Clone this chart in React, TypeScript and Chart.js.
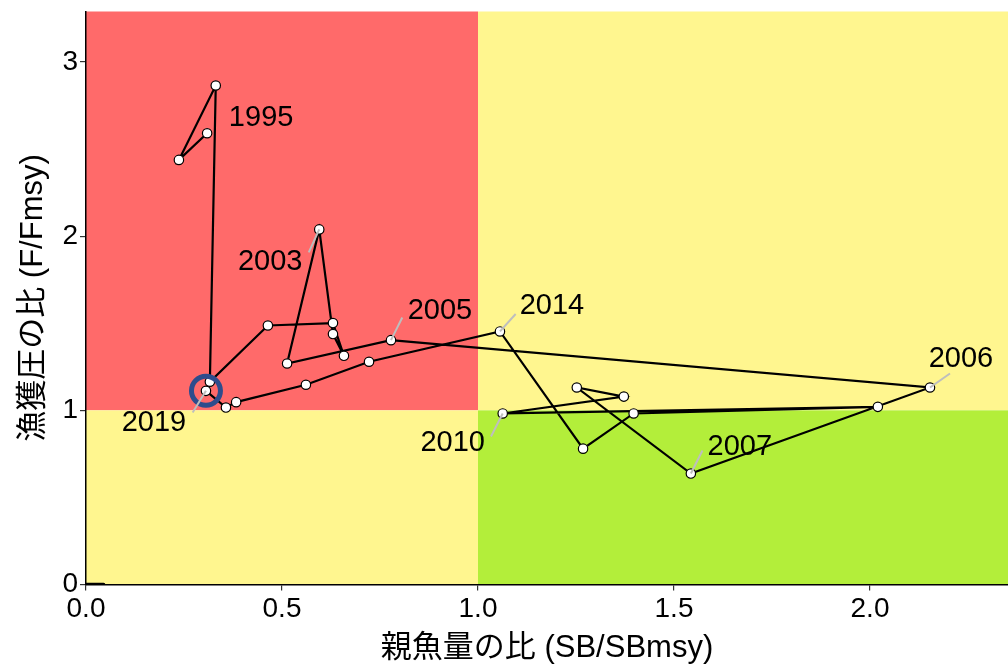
import React, { useEffect, useRef } from "react";
import { Chart, registerables } from "chart.js";

Chart.register(...registerables);

// ---- data ----
const years = [
  1995, 1996, 1997, 1998, 1999, 2000, 2001, 2002, 2003, 2004, 2005, 2006, 2007,
  2008, 2009, 2010, 2011, 2012, 2013, 2014, 2015, 2016, 2017, 2018, 2019,
];
const sbRatio = [
  0.309, 0.237, 0.331, 0.316, 0.464, 0.63, 0.658, 0.63, 0.595, 0.513, 0.778,
  2.153, 1.543, 1.252, 1.372, 1.063, 2.02, 1.397, 1.268, 1.056, 0.722, 0.561,
  0.383, 0.357, 0.306,
];
const fRatio = [
  2.591, 2.438, 2.865, 1.164, 1.487, 1.501, 1.313, 1.438, 2.039, 1.269, 1.403,
  1.131, 0.637, 1.131, 1.079, 0.982, 1.02, 0.982, 0.78, 1.453, 1.279, 1.147,
  1.047, 1.016, 1.112,
];
const labelYears = [1995, 2003, 2005, 2006, 2007, 2010, 2014, 2019];
const xTicks = [0, 0.5, 1, 1.5, 2];
const yTicks = [0, 1, 2, 3];
const xMax = 2.352;
const yMax = 3.29;
const refLine = 1; // SB/SBmsy = 1 and F/Fmsy = 1
const originSegX = [0, 0.045];
const originSegY = [0, 0];

// label placement (pixel offsets from the point): [labelDx, labelDy, leaderDx, leaderDy]
const labelOffsets: Record<number, number[]> = {
  1995: [54, -15],
  2003: [-49, 33, -10.5, 23],
  2005: [49, -29, 11.3, -22.6],
  2006: [31, -29, 20, -14],
  2007: [49, -27, 11.6, -23],
  2010: [-50, 30, -11.7, 23],
  2014: [52, -25, 15.7, -17.4],
  2019: [-52, 32, -13.3, 21.7],
};

const COLORS = {
  red: "#FF6A6A",
  yellow: "#FFF68F",
  green: "#B3EE3A",
  ring: "#2E4C8C",
  leader: "#BEBEBE",
};

const FONT = "'Liberation Sans', Arial, 'Noto Sans CJK JP', sans-serif";

const quadrantPlugin = {
  id: "quadrants",
  beforeDraw(chart: any) {
    const { ctx, chartArea, scales } = chart;
    const { left, right, top, bottom } = chartArea;
    const xs = scales.x.getPixelForValue(refLine);
    const ys = scales.y.getPixelForValue(refLine);
    ctx.save();
    ctx.fillStyle = COLORS.red;
    ctx.fillRect(left, top, xs - left, ys - top);
    ctx.fillStyle = COLORS.yellow;
    ctx.fillRect(xs, top, right - xs, ys - top);
    ctx.fillRect(left, ys, xs - left, bottom - ys);
    ctx.fillStyle = COLORS.green;
    ctx.fillRect(xs, ys, right - xs, bottom - ys);
    ctx.restore();
  },
};

const labelPlugin = {
  id: "yearLabels",
  afterDatasetsDraw(chart: any) {
    const { ctx, scales } = chart;
    ctx.save();
    const last = years.length - 1;
    const lx = scales.x.getPixelForValue(sbRatio[last]);
    const ly = scales.y.getPixelForValue(fRatio[last]);
    ctx.beginPath();
    ctx.arc(lx, ly, 14.5, 0, Math.PI * 2);
    ctx.lineWidth = 5;
    ctx.strokeStyle = COLORS.ring;
    ctx.stroke();

    ctx.font = `29px ${FONT}`;
    ctx.textAlign = "center";
    ctx.textBaseline = "middle";
    labelYears.forEach((yr) => {
      const i = years.indexOf(yr);
      if (i < 0) return;
      const px = scales.x.getPixelForValue(sbRatio[i]);
      const py = scales.y.getPixelForValue(fRatio[i]);
      const off = labelOffsets[yr];
      if (off.length === 4) {
        ctx.beginPath();
        ctx.moveTo(px, py);
        ctx.lineTo(px + off[2], py + off[3]);
        ctx.lineWidth = 2;
        ctx.lineCap = "butt";
        ctx.strokeStyle = COLORS.leader;
        ctx.stroke();
      }
      ctx.fillStyle = "#000";
      ctx.fillText(String(yr), px + off[0], py + off[1]);
    });
    ctx.restore();
  },
};

const zeroPad = (axis: any) => {
  axis.paddingTop = 0;
  axis.paddingBottom = 0;
  axis.paddingLeft = 0;
  axis.paddingRight = 0;
};

export default function App() {
  const ref = useRef<HTMLCanvasElement | null>(null);

  useEffect(() => {
    if (!ref.current) return;
    const chart = new Chart(ref.current, {
      type: "scatter",
      data: {
        datasets: [
          {
            data: originSegX.map((x, i) => ({ x, y: originSegY[i] })),
            showLine: true,
            borderColor: "#000",
            borderWidth: 3.5,
            borderCapStyle: "round",
            pointRadius: 0,
          },
          {
            data: sbRatio.map((x, i) => ({ x, y: fRatio[i] })),
            showLine: true,
            borderColor: "#000",
            borderWidth: 2.2,
            pointRadius: 4.7,
            pointBackgroundColor: "#fff",
            pointBorderColor: "#000",
            pointBorderWidth: 1.2,
          },
        ],
      },
      options: {
        animation: false,
        responsive: false,
        devicePixelRatio: 1,
        layout: { autoPadding: false, padding: { top: 11.5, right: 0, left: 0, bottom: 0 } },
        plugins: { legend: { display: false }, tooltip: { enabled: false } },
        scales: {
          x: {
            type: "linear",
            min: 0,
            max: xMax,
            afterBuildTicks: (axis: any) => {
              axis.ticks = xTicks.map((v) => ({ value: v }));
            },
            afterFit: (axis: any) => {
              axis.height = 80.5;
              zeroPad(axis);
            },
            grid: { drawOnChartArea: false, drawTicks: true, tickLength: 6, color: "#333", lineWidth: 1.2 },
            border: { display: true, color: "#000", width: 1.5 },
            ticks: {
              color: "#000",
              padding: 2,
              font: { size: 28, family: FONT },
              callback: (v: any) => Number(v).toFixed(1),
            },
            title: {
              display: true,
              text: "親魚量の比 (SB/SBmsy)",
              color: "#000",
              font: { size: 31, family: FONT },
              padding: { top: 0, bottom: -2 },
            },
          },
          y: {
            type: "linear",
            min: 0,
            max: yMax,
            afterBuildTicks: (axis: any) => {
              axis.ticks = yTicks.map((v) => ({ value: v }));
            },
            afterFit: (axis: any) => {
              axis.width = 86;
              zeroPad(axis);
            },
            grid: { drawOnChartArea: false, drawTicks: true, tickLength: 6, color: "#333", lineWidth: 1.2 },
            border: { display: true, color: "#000", width: 1.5 },
            ticks: {
              color: "#000",
              padding: 2,
              font: { size: 28, family: FONT },
              callback: (v: any) => String(v),
            },
            title: {
              display: true,
              text: "漁獲圧の比 (F/Fmsy)",
              color: "#000",
              font: { size: 31, family: FONT },
              padding: { top: 15, bottom: 0 },
            },
          },
        },
      },
      plugins: [quadrantPlugin, labelPlugin],
    } as any);
    return () => chart.destroy();
  }, []);

  return (
    <div style={{ position: "absolute", left: 0, top: 0, width: 1008, height: 665, background: "#fff" }}>
      <canvas ref={ref} width={1008} height={665} style={{ display: "block" }} />
    </div>
  );
}
